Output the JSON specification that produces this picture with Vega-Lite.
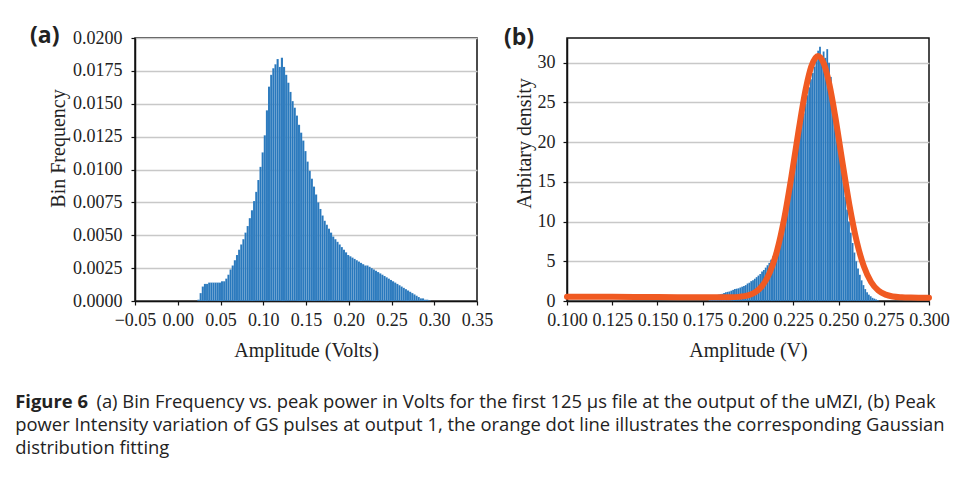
{
  "$schema": "https://vega.github.io/schema/vega-lite/v6.json",
  "background": "white",
  "padding": {"left": 15, "top": 24, "right": 5, "bottom": 5},
  "datasets": {
    "histA": [
      {"amp": 0.0225, "freq": 0.0001}, {"amp": 0.025, "freq": 0.0006}, {"amp": 0.0275, "freq": 0.0011}, {"amp": 0.03, "freq": 0.0013},
      {"amp": 0.0325, "freq": 0.0013}, {"amp": 0.035, "freq": 0.0014}, {"amp": 0.0375, "freq": 0.0014}, {"amp": 0.04, "freq": 0.0014},
      {"amp": 0.0425, "freq": 0.0014}, {"amp": 0.045, "freq": 0.0014}, {"amp": 0.0475, "freq": 0.0014}, {"amp": 0.05, "freq": 0.0015},
      {"amp": 0.0525, "freq": 0.0015}, {"amp": 0.055, "freq": 0.0017}, {"amp": 0.0575, "freq": 0.002}, {"amp": 0.06, "freq": 0.0024},
      {"amp": 0.0625, "freq": 0.0027}, {"amp": 0.065, "freq": 0.0031}, {"amp": 0.0675, "freq": 0.0035}, {"amp": 0.07, "freq": 0.0039},
      {"amp": 0.0725, "freq": 0.0043}, {"amp": 0.075, "freq": 0.0047}, {"amp": 0.0775, "freq": 0.0052}, {"amp": 0.08, "freq": 0.0057},
      {"amp": 0.0825, "freq": 0.0063}, {"amp": 0.085, "freq": 0.0069}, {"amp": 0.0875, "freq": 0.0076}, {"amp": 0.09, "freq": 0.0083},
      {"amp": 0.0925, "freq": 0.0092}, {"amp": 0.095, "freq": 0.0102}, {"amp": 0.0975, "freq": 0.0113}, {"amp": 0.1, "freq": 0.0126},
      {"amp": 0.1025, "freq": 0.0145}, {"amp": 0.105, "freq": 0.0163}, {"amp": 0.1075, "freq": 0.0172}, {"amp": 0.11, "freq": 0.0177},
      {"amp": 0.1125, "freq": 0.018}, {"amp": 0.115, "freq": 0.0184}, {"amp": 0.1175, "freq": 0.0178}, {"amp": 0.12, "freq": 0.0185},
      {"amp": 0.1225, "freq": 0.0178}, {"amp": 0.125, "freq": 0.0172}, {"amp": 0.1275, "freq": 0.0166}, {"amp": 0.13, "freq": 0.0159},
      {"amp": 0.1325, "freq": 0.0152}, {"amp": 0.135, "freq": 0.0147}, {"amp": 0.1375, "freq": 0.0141}, {"amp": 0.14, "freq": 0.0134},
      {"amp": 0.1425, "freq": 0.0128}, {"amp": 0.145, "freq": 0.0122}, {"amp": 0.1475, "freq": 0.0114}, {"amp": 0.15, "freq": 0.0106},
      {"amp": 0.1525, "freq": 0.0099}, {"amp": 0.155, "freq": 0.0093}, {"amp": 0.1575, "freq": 0.0087}, {"amp": 0.16, "freq": 0.0081},
      {"amp": 0.1625, "freq": 0.0075}, {"amp": 0.165, "freq": 0.007}, {"amp": 0.1675, "freq": 0.0065}, {"amp": 0.17, "freq": 0.0061},
      {"amp": 0.1725, "freq": 0.0058}, {"amp": 0.175, "freq": 0.0055}, {"amp": 0.1775, "freq": 0.0052}, {"amp": 0.18, "freq": 0.0049},
      {"amp": 0.1825, "freq": 0.0047}, {"amp": 0.185, "freq": 0.0045}, {"amp": 0.1875, "freq": 0.0043}, {"amp": 0.19, "freq": 0.0041},
      {"amp": 0.1925, "freq": 0.0039}, {"amp": 0.195, "freq": 0.0037}, {"amp": 0.1975, "freq": 0.0035}, {"amp": 0.2, "freq": 0.0034},
      {"amp": 0.2025, "freq": 0.0033}, {"amp": 0.205, "freq": 0.0032}, {"amp": 0.2075, "freq": 0.0031}, {"amp": 0.21, "freq": 0.003},
      {"amp": 0.2125, "freq": 0.0029}, {"amp": 0.215, "freq": 0.0028}, {"amp": 0.2175, "freq": 0.0027}, {"amp": 0.22, "freq": 0.0027},
      {"amp": 0.2225, "freq": 0.0026}, {"amp": 0.225, "freq": 0.0025}, {"amp": 0.2275, "freq": 0.0024}, {"amp": 0.23, "freq": 0.0023},
      {"amp": 0.2325, "freq": 0.0022}, {"amp": 0.235, "freq": 0.0021}, {"amp": 0.2375, "freq": 0.002}, {"amp": 0.24, "freq": 0.0019},
      {"amp": 0.2425, "freq": 0.0018}, {"amp": 0.245, "freq": 0.0017}, {"amp": 0.2475, "freq": 0.0016}, {"amp": 0.25, "freq": 0.0015},
      {"amp": 0.2525, "freq": 0.0014}, {"amp": 0.255, "freq": 0.0013}, {"amp": 0.2575, "freq": 0.0012}, {"amp": 0.26, "freq": 0.0011},
      {"amp": 0.2625, "freq": 0.001}, {"amp": 0.265, "freq": 0.0009}, {"amp": 0.2675, "freq": 0.0008}, {"amp": 0.27, "freq": 0.0007},
      {"amp": 0.2725, "freq": 0.0006}, {"amp": 0.275, "freq": 0.0005}, {"amp": 0.2775, "freq": 0.0004}, {"amp": 0.28, "freq": 0.0003},
      {"amp": 0.2825, "freq": 0.0002}, {"amp": 0.285, "freq": 0.0002}, {"amp": 0.2875, "freq": 0.0001}, {"amp": 0.29, "freq": 0.0001},
      {"amp": 0.2925, "freq": 0.00005}
    ],
    "histB": [
      {"amp": 0.178, "density": 0.3}, {"amp": 0.179, "density": 0.4}, {"amp": 0.18, "density": 0.5}, {"amp": 0.181, "density": 0.6},
      {"amp": 0.182, "density": 0.7}, {"amp": 0.183, "density": 0.8}, {"amp": 0.184, "density": 0.85}, {"amp": 0.185, "density": 0.9},
      {"amp": 0.186, "density": 1.0}, {"amp": 0.187, "density": 1.1}, {"amp": 0.188, "density": 1.15}, {"amp": 0.189, "density": 1.2},
      {"amp": 0.19, "density": 1.3}, {"amp": 0.191, "density": 1.4}, {"amp": 0.192, "density": 1.5}, {"amp": 0.193, "density": 1.55},
      {"amp": 0.194, "density": 1.6}, {"amp": 0.195, "density": 1.7}, {"amp": 0.196, "density": 1.8}, {"amp": 0.197, "density": 1.9},
      {"amp": 0.198, "density": 2.0}, {"amp": 0.199, "density": 2.2}, {"amp": 0.2, "density": 2.3}, {"amp": 0.201, "density": 2.5},
      {"amp": 0.202, "density": 2.6}, {"amp": 0.203, "density": 2.8}, {"amp": 0.204, "density": 3.0}, {"amp": 0.205, "density": 3.2},
      {"amp": 0.206, "density": 3.4}, {"amp": 0.207, "density": 3.7}, {"amp": 0.208, "density": 3.9}, {"amp": 0.209, "density": 4.2},
      {"amp": 0.21, "density": 4.5}, {"amp": 0.211, "density": 4.8}, {"amp": 0.212, "density": 5.2}, {"amp": 0.213, "density": 5.6},
      {"amp": 0.214, "density": 6.1}, {"amp": 0.215, "density": 6.7}, {"amp": 0.216, "density": 7.4}, {"amp": 0.217, "density": 8.2},
      {"amp": 0.218, "density": 9.1}, {"amp": 0.219, "density": 10.1}, {"amp": 0.22, "density": 11.1}, {"amp": 0.221, "density": 12.2},
      {"amp": 0.222, "density": 13.4}, {"amp": 0.223, "density": 14.6}, {"amp": 0.224, "density": 15.9}, {"amp": 0.225, "density": 17.2},
      {"amp": 0.226, "density": 18.5}, {"amp": 0.227, "density": 19.8}, {"amp": 0.228, "density": 21.1}, {"amp": 0.229, "density": 22.4},
      {"amp": 0.23, "density": 23.6}, {"amp": 0.231, "density": 24.8}, {"amp": 0.232, "density": 25.9}, {"amp": 0.233, "density": 26.9},
      {"amp": 0.234, "density": 27.9}, {"amp": 0.235, "density": 28.7}, {"amp": 0.236, "density": 29.5}, {"amp": 0.237, "density": 30.2},
      {"amp": 0.238, "density": 31.5}, {"amp": 0.239, "density": 32.0}, {"amp": 0.24, "density": 30.8}, {"amp": 0.241, "density": 31.4},
      {"amp": 0.242, "density": 30.6}, {"amp": 0.243, "density": 31.7}, {"amp": 0.244, "density": 30.0}, {"amp": 0.245, "density": 28.2},
      {"amp": 0.246, "density": 26.2}, {"amp": 0.247, "density": 24.2}, {"amp": 0.248, "density": 22.2}, {"amp": 0.249, "density": 20.2},
      {"amp": 0.25, "density": 18.3}, {"amp": 0.251, "density": 16.5}, {"amp": 0.252, "density": 14.8}, {"amp": 0.253, "density": 13.1},
      {"amp": 0.254, "density": 11.5}, {"amp": 0.255, "density": 10.0}, {"amp": 0.256, "density": 8.6}, {"amp": 0.257, "density": 7.3},
      {"amp": 0.258, "density": 6.1}, {"amp": 0.259, "density": 5.0}, {"amp": 0.26, "density": 4.1}, {"amp": 0.261, "density": 3.3},
      {"amp": 0.262, "density": 2.6}, {"amp": 0.263, "density": 2.0}, {"amp": 0.264, "density": 1.5}, {"amp": 0.265, "density": 1.1},
      {"amp": 0.266, "density": 0.8}, {"amp": 0.267, "density": 0.6}, {"amp": 0.268, "density": 0.4}, {"amp": 0.269, "density": 0.3},
      {"amp": 0.27, "density": 0.2}, {"amp": 0.271, "density": 0.1}
    ],
    "fitB": [
      {"amp": 0.1, "density": 0.55}, {"amp": 0.125, "density": 0.52}, {"amp": 0.15, "density": 0.5}, {"amp": 0.175, "density": 0.47},
      {"amp": 0.19, "density": 0.47}, {"amp": 0.195, "density": 0.52}, {"amp": 0.2, "density": 0.7}, {"amp": 0.204, "density": 1.1},
      {"amp": 0.208, "density": 1.94}, {"amp": 0.212, "density": 3.56}, {"amp": 0.216, "density": 6.3}, {"amp": 0.22, "density": 10.38},
      {"amp": 0.224, "density": 15.67}, {"amp": 0.228, "density": 21.52}, {"amp": 0.232, "density": 26.78}, {"amp": 0.235, "density": 29.54},
      {"amp": 0.2387, "density": 30.85}, {"amp": 0.242, "density": 29.81}, {"amp": 0.245, "density": 27.22}, {"amp": 0.248, "density": 23.5},
      {"amp": 0.252, "density": 17.71}, {"amp": 0.256, "density": 12.12}, {"amp": 0.26, "density": 7.57}, {"amp": 0.264, "density": 4.37},
      {"amp": 0.268, "density": 2.4}, {"amp": 0.272, "density": 1.32}, {"amp": 0.276, "density": 0.8}, {"amp": 0.28, "density": 0.57},
      {"amp": 0.285, "density": 0.47}, {"amp": 0.29, "density": 0.43}, {"amp": 0.3, "density": 0.4}
    ]
  },
  "title": {
    "text": "Figure 6",
    "subtitle": [
      "\u200b\u00a0\u00a0\u00a0\u00a0\u00a0\u00a0\u00a0\u00a0\u00a0\u00a0\u00a0\u00a0\u00a0\u00a0\u00a0\u00a0\u00a0(a) Bin Frequency vs. peak power in Volts for the first 125 \u03bcs file at the output of the uMZI, (b) Peak",
      "power Intensity variation of GS pulses at output 1, the orange dot line illustrates the corresponding Gaussian",
      "distribution fitting"
    ],
    "orient": "bottom",
    "anchor": "start",
    "frame": "bounds",
    "font": "Open Sans",
    "fontSize": 18.4,
    "fontWeight": "bold",
    "color": "#222222",
    "subtitleFont": "Open Sans",
    "subtitleFontSize": 18.4,
    "subtitleColor": "#222222",
    "subtitleLineHeight": 23,
    "subtitlePadding": -18.4,
    "offset": 32,
    "dx": -14
  },
  "spacing": 9,
  "hconcat": [
    {
      "width": 342,
      "height": 263,
      "title": {"text": "(a)", "anchor": "start", "frame": "group", "font": "Open Sans", "fontWeight": "bold", "fontSize": 23, "color": "#222222", "dx": -105, "offset": -19.4},
      "data": {"name": "histA"},
      "mark": {"type": "bar", "color": "#2878bd", "binSpacing": 0, "stroke": "#ffffff", "strokeWidth": 0.3, "strokeOpacity": 0.25},
      "encoding": {
        "x": {
          "field": "amp", "type": "quantitative", "bin": {"binned": true, "step": 0.0025},
          "scale": {"domain": [-0.05, 0.35], "nice": false},
          "axis": {"values": [-0.05, 0, 0.05, 0.1, 0.15, 0.2, 0.25, 0.3, 0.35], "format": ".2f", "labelPadding": 6, "titlePadding": 11},
          "title": "Amplitude (Volts)"
        },
        "y": {
          "field": "freq", "type": "quantitative",
          "scale": {"domain": [0, 0.02], "nice": false},
          "axis": {"values": [0, 0.0025, 0.005, 0.0075, 0.01, 0.0125, 0.015, 0.0175, 0.02], "format": ".4f", "labelPadding": 9, "titlePadding": 4, "titleY": 110},
          "title": "Bin Frequency"
        }
      }
    },
    {
      "width": 362,
      "height": 263,
      "title": {"text": "(b)", "anchor": "start", "frame": "group", "font": "Open Sans", "fontWeight": "bold", "fontSize": 23, "color": "#222222", "dx": -63, "offset": -12},
      "layer": [
        {
          "data": {"name": "histB"},
          "mark": {"type": "bar", "color": "#2878bd", "binSpacing": 0, "stroke": "#ffffff", "strokeWidth": 0.2, "strokeOpacity": 0.2},
          "encoding": {
            "x": {
              "field": "amp", "type": "quantitative", "bin": {"binned": true, "step": 0.001},
              "scale": {"domain": [0.1, 0.3], "nice": false},
              "axis": {"values": [0.1, 0.125, 0.15, 0.175, 0.2, 0.225, 0.25, 0.275, 0.3], "format": ".3f", "labelPadding": 6, "titlePadding": 11},
              "title": "Amplitude (V)"
            },
            "y": {
              "field": "density", "type": "quantitative",
              "scale": {"domain": [0, 33.1], "nice": false},
              "axis": {"values": [0, 5, 10, 15, 20, 25, 30], "format": "d", "labelPadding": 8, "titlePadding": 3, "titleY": 105},
              "title": "Arbitary density"
            }
          }
        },
        {
          "data": {"name": "fitB"},
          "mark": {"type": "line", "color": "#f05a22", "strokeWidth": 6, "interpolate": "monotone", "strokeCap": "round", "strokeJoin": "round"},
          "encoding": {
            "x": {"field": "amp", "type": "quantitative"},
            "y": {"field": "density", "type": "quantitative"}
          }
        }
      ]
    }
  ],
  "config": {
    "view": {"stroke": "#111111", "strokeWidth": 1.5},
    "axis": {
      "labelFont": "Liberation Serif", "labelFontSize": 18, "labelColor": "#222222",
      "titleFont": "Liberation Serif", "titleFontSize": 20, "titleFontWeight": "normal", "titleColor": "#222222",
      "gridColor": "#c8c8c8", "gridWidth": 1.5,
      "domainColor": "#111111", "domainWidth": 1.5,
      "tickColor": "#111111", "tickSize": 4, "tickWidth": 1.2,
      "labelFlush": false, "labelOverlap": false, "zindex": 1
    }
  }
}
